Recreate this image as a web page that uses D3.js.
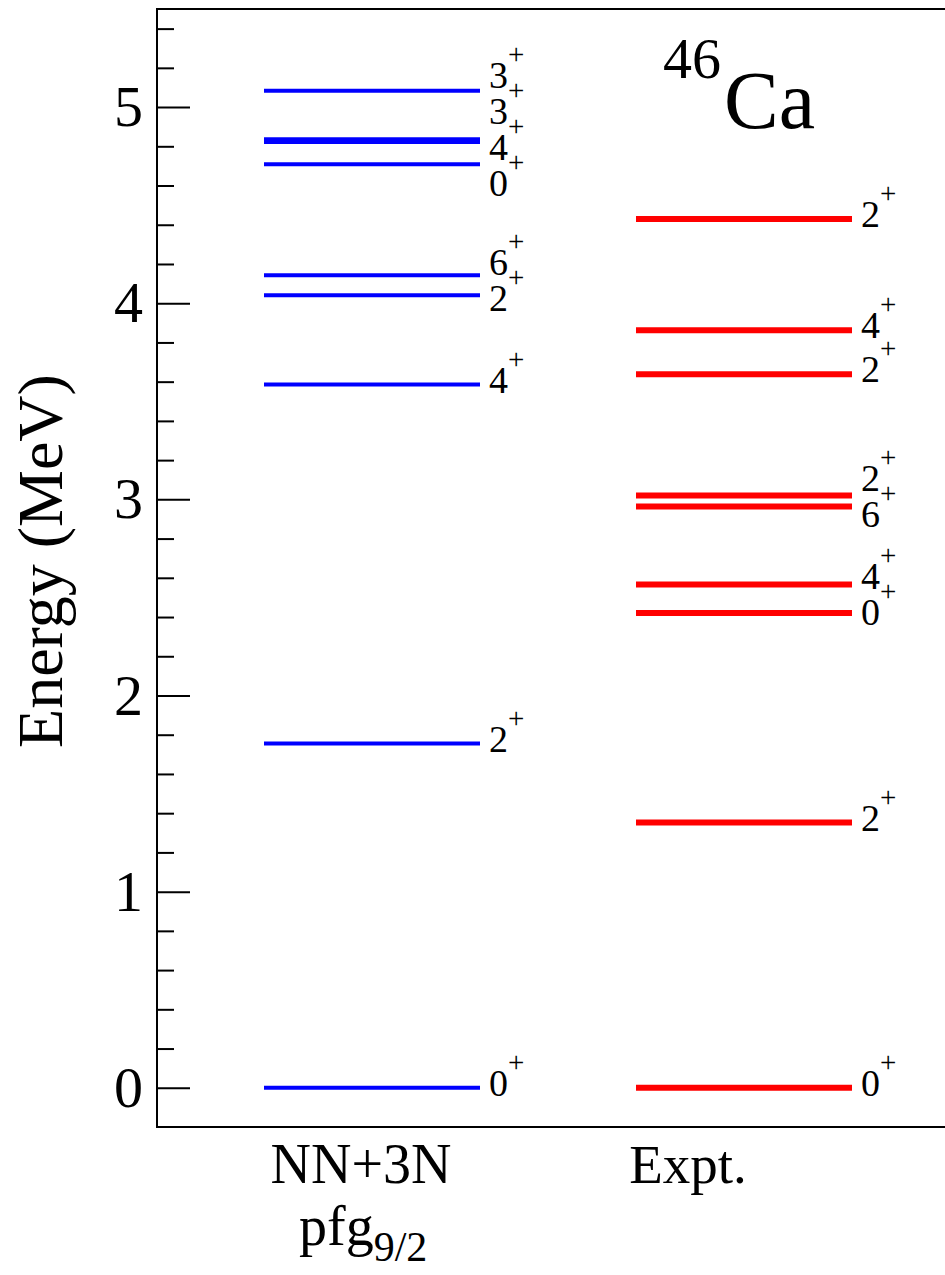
<!DOCTYPE html>
<html>
<head>
<meta charset="utf-8">
<script src="https://cdn.jsdelivr.net/npm/d3@7"></script>
<style>
  body { margin: 0; background: #fff; }
  text { font-family: "Liberation Serif", "Times New Roman", serif; fill: #000; }
</style>
</head>
<body>
<script>

// level energies (MeV) and spins
const columns = ["NN+3N", "Expt."];
const thEnergy = [0, 1.755, 3.585, 4.041, 4.143, 4.709, 4.822, 4.836, 5.083];
const thSpin   = ["0", "2", "4", "2", "6", "0", "4", "3", "3"];
const expEnergy = [0, 1.352, 2.420, 2.566, 2.964, 3.020, 3.638, 3.862, 4.429];
const expSpin   = ["0", "2", "0", "4", "6", "2", "2", "4", "2"];
const majorTicks = [0, 1, 2, 3, 4, 5];
const minorTicks = d3.range(0.2, 5.5, 0.2).filter(v => Math.abs(v - Math.round(v)) > 0.01);

const W = 945;
const H = 1275;
const padL = 157, padT = 9, padB = 1127;

const svg = d3.select("body")
.append("svg")
.attr("width", W)
.attr("height", H);

const yScale = d3.scaleLinear()
.domain([-0.2, 5.5])
.range([padB, padT]);

const xScale = d3.scalePoint()
.domain(columns)
.range([372, 744]);

const halfW = 108;

// frame
svg.append("rect")
.attr("x", padL)
.attr("y", padT)
.attr("width", W + 10 - padL)
.attr("height", padB - padT)
.attr("fill", "none")
.attr("stroke", "#000")
.attr("stroke-width", 2);

const yAxis = d3.axisLeft(yScale)
.tickValues(majorTicks)
.tickSizeInner(-33)
.tickSizeOuter(0)
.tickPadding(14)
.tickFormat(d3.format("d"));

const yMinor = d3.axisLeft(yScale)
.tickValues(minorTicks)
.tickSizeInner(-17)
.tickSizeOuter(0)
.tickFormat("");

svg.append("g")
.attr("transform", `translate(${padL},0)`)
.call(yMinor)
.call(g => g.select(".domain").remove())
.selectAll("line").attr("stroke", "#000").attr("stroke-width", 2);

const gy = svg.append("g")
.attr("transform", `translate(${padL},0)`)
.call(yAxis)
.call(g => g.select(".domain").remove());
gy.selectAll("line").attr("stroke", "#000").attr("stroke-width", 2);
gy.selectAll("text")
.attr("font-family", "Liberation Serif")
.attr("font-size", 58)
.attr("fill", "#000");

svg.append("text")
.text("Energy (MeV)")
.attr("transform", `translate(62, 561) rotate(-90)`)
.attr("text-anchor", "middle")
.style("font-size", "64px");

// spread labels so they don't overlap
function spread(ys, gap) {
  const order = ys.map((y, i) => ({y, i})).sort((a, b) => a.y - b.y);
  const blocks = [];
  for (const o of order) {
    blocks.push({items: [o], mean: o.y});
    while (blocks.length > 1) {
      const b = blocks[blocks.length - 1], a = blocks[blocks.length - 2];
      const aBot = a.mean + (a.items.length - 1) * gap / 2;
      const bTop = b.mean - (b.items.length - 1) * gap / 2;
      if (bTop - aBot < gap) {
        const items = a.items.concat(b.items);
        blocks.pop(); blocks.pop();
        blocks.push({items, mean: d3.mean(items, d => d.y)});
      } else break;
    }
  }
  const out = [];
  blocks.forEach(b => {
    const t = b.mean - (b.items.length - 1) * gap / 2;
    b.items.forEach((d, k) => { out[d.i] = t + k * gap; });
  });
  return out;
}

function drawLevels(col, energies, spins, color, width) {
  const cx = xScale(col);
  const g = svg.append("g");
  g.selectAll("line")
  .data(energies)
  .enter()
  .append("line")
  .attr("x1", cx - halfW)
  .attr("x2", cx + halfW)
  .attr("y1", d => yScale(d))
  .attr("y2", d => yScale(d))
  .attr("stroke", color)
  .attr("stroke-width", width);

  const ly = spread(energies.map(e => yScale(e) + 8), 36);
  const lx = cx + halfW + 9;
  energies.forEach((e, i) => {
    g.append("text")
    .text(spins[i])
    .attr("x", lx)
    .attr("y", ly[i])
    .style("font-size", "38px");
    g.append("text")
    .text("+")
    .attr("x", lx + 19)
    .attr("y", ly[i] - 24)
    .style("font-size", "29px");
  });
}

drawLevels(columns[0], thEnergy, thSpin, "#0000ff", 4);
drawLevels(columns[1], expEnergy, expSpin, "#ff0000", 6);

// title
svg.append("text")
.text("46")
.attr("x", 663)
.attr("y", 78)
.style("font-size", "58px");
svg.append("text")
.text("Ca")
.attr("x", 724)
.attr("y", 128)
.style("font-size", "82px");

// column labels
svg.append("text")
.text(columns[0])
.attr("x", 361)
.attr("y", 1183)
.attr("text-anchor", "middle")
.style("font-size", "56px");

const pfg = svg.append("text")
.attr("x", 299)
.attr("y", 1245)
.style("font-size", "56px");
pfg.append("tspan").text("pfg");
pfg.append("tspan").text("9/2").attr("dy", 16).style("font-size", "42px");

svg.append("text")
.text(columns[1])
.attr("x", 688)
.attr("y", 1183)
.attr("text-anchor", "middle")
.style("font-size", "55px");

</script>
</body>
</html>
